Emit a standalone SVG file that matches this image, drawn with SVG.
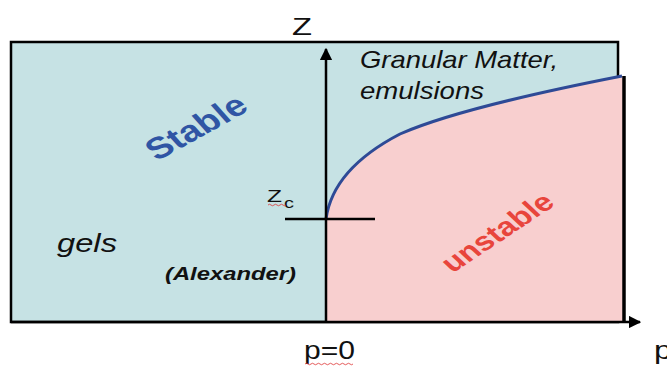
<svg xmlns="http://www.w3.org/2000/svg" width="667" height="367" viewBox="0 0 667 367">
<defs>
<style>
text{font-family:"Liberation Sans",Arial,sans-serif;fill:#111}
.it{font-style:italic}
.axis{stroke:#000;stroke-width:2.5;fill:none}
.sq{stroke:#d33;stroke-width:0.8;fill:none}
</style>
<marker id="arr" viewBox="0 0 10 10" refX="9" refY="5" markerWidth="5" markerHeight="5" orient="auto" markerUnits="strokeWidth">
<path d="M0,0 L10,5 L0,10 z" fill="#000"/>
</marker>
</defs>
<rect width="667" height="367" fill="#fff"/>
<g id="stable-region">
<rect x="11" y="42" width="607" height="280" fill="#c6e2e4" stroke="#000" stroke-width="2.5"/>
</g>
<g id="unstable-region">
<path d="M326,219 C330,190 350,160 400,134 C450,112 540,92 622,76 L624,76 L624,322 L326,322 Z" fill="#f8cfcf"/>
<line x1="624" y1="76" x2="624" y2="322" stroke="#000" stroke-width="3.5"/>
</g>
<g id="boundary">
<path d="M326,219 C330,190 350,160 400,134 C450,112 540,92 622,76" fill="none" stroke="#2e4a96" stroke-width="3"/>
</g>
<g id="connectors">
<line class="axis" x1="326" y1="322" x2="326" y2="49" marker-end="url(#arr)"/>
<line class="axis" x1="11" y1="322" x2="640" y2="322" marker-end="url(#arr)"/>
<line class="axis" x1="285" y1="219" x2="375" y2="219"/>
</g>
<g id="labels">
<text x="292" y="35" font-size="24" textLength="20" lengthAdjust="spacingAndGlyphs">Z</text>
<text x="360" y="68" font-size="24" class="it" textLength="198" lengthAdjust="spacingAndGlyphs">Granular Matter,</text>
<text x="360" y="99" font-size="24" class="it" textLength="124" lengthAdjust="spacingAndGlyphs">emulsions</text>
<g transform="scale(1.27 1) translate(154.3 127)">
<text transform="rotate(-35)" font-size="30" font-weight="bold" text-anchor="middle" dominant-baseline="central" style="fill:#2f55a4">Stable</text>
</g>
<text x="57" y="252" font-size="26" class="it" textLength="60" lengthAdjust="spacingAndGlyphs">gels</text>
<text x="165" y="280" font-size="19" font-weight="bold" class="it" textLength="131" lengthAdjust="spacingAndGlyphs">(Alexander)</text>
<g transform="scale(1.27 1) translate(391.3 232)">
<text transform="rotate(-40)" font-size="26" font-weight="bold" text-anchor="middle" dominant-baseline="central" style="fill:#e8453c">unstable</text>
</g>
<text x="267" y="202" font-size="17" textLength="15" lengthAdjust="spacingAndGlyphs">Z</text>
<text x="284" y="208" font-size="14" textLength="10" lengthAdjust="spacingAndGlyphs">c</text>
<path class="sq" d="M268,205 q1.5,-1.5 3,0 t3,0 t3,0 t3,0 t3,0 t3,0"/>
<text x="304" y="359" font-size="25" textLength="51" lengthAdjust="spacingAndGlyphs">p=0</text>
<path class="sq" d="M305,364 q1.5,-1.5 3,0 t3,0 t3,0 t3,0 t3,0 t3,0 t3,0 t3,0 t3,0 t3,0 t3,0 t3,0 t3,0 t3,0 t3,0 t3,0"/>
<text x="654" y="359" font-size="25" textLength="18" lengthAdjust="spacingAndGlyphs">p</text>
</g>
</svg>
